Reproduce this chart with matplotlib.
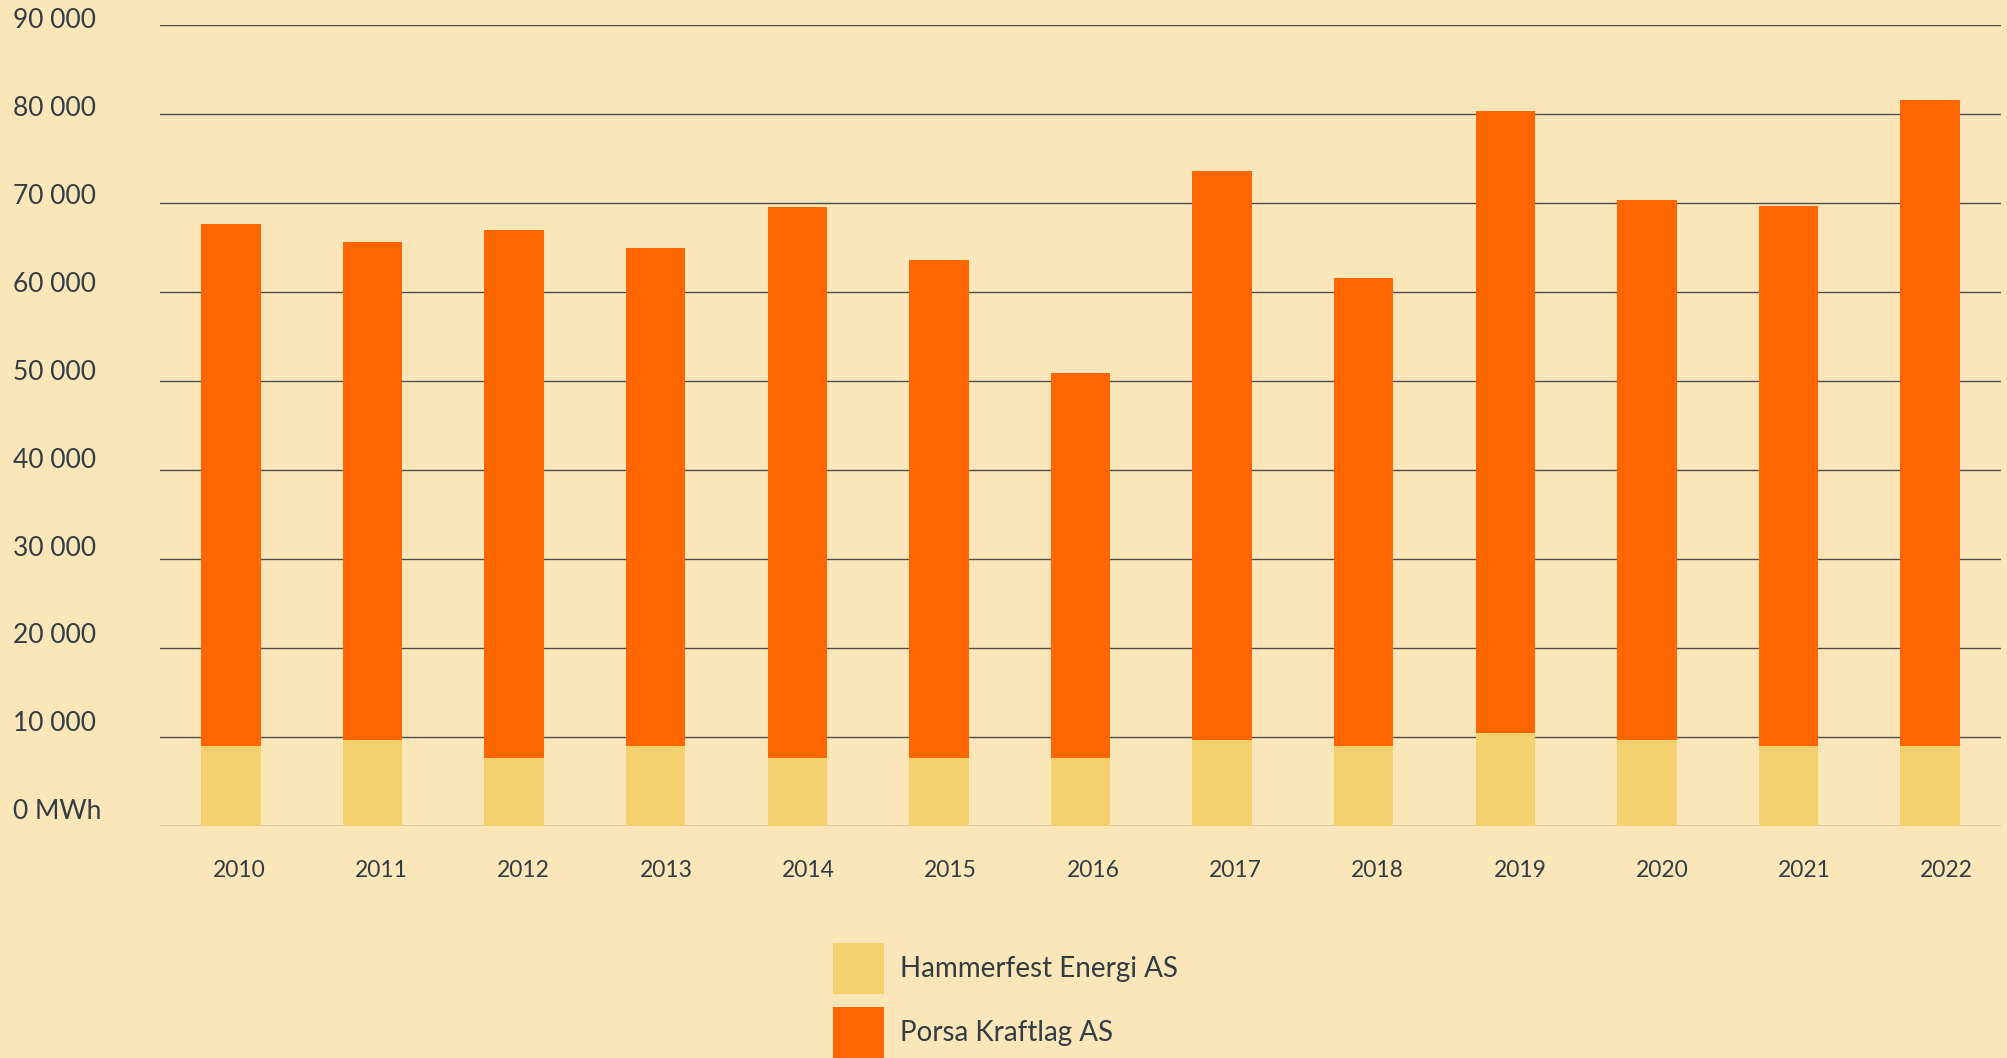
import matplotlib
matplotlib.use("Agg")
import matplotlib.pyplot as plt

# Data (MWh)
years = ["2010", "2011", "2012", "2013", "2014", "2015", "2016",
         "2017", "2018", "2019", "2020", "2021", "2022"]
hammerfest = [9000, 9700, 7600, 9000, 7600, 7600, 7600,
              9700, 9000, 10400, 9700, 9000, 9000]
totals = [67600, 65600, 67000, 65000, 69600, 63600, 50900,
          73600, 61600, 80300, 70300, 69700, 81600]
porsa = [t - h for t, h in zip(totals, hammerfest)]

y_ticks = [0, 10000, 20000, 30000, 40000, 50000, 60000, 70000, 80000, 90000]
y_labels = ["0 MWh", "10 000", "20 000", "30 000", "40 000",
            "50 000", "60 000", "70 000", "80 000", "90 000"]

bg = "#fae6b8"
col_h = "#f4d06f"
col_p = "#ff6600"
txt = "#343c44"

plt.rcParams["font.family"] = ["Lato", "DejaVu Sans"]

fig = plt.figure(figsize=(20.08, 10.58), dpi=100, facecolor=bg)
ax = fig.add_axes([160 / 2008, 1 - 826 / 1058, 1841 / 2008, 801 / 1058])
ax.set_facecolor(bg)

x = list(range(len(years)))
b1 = ax.bar(x, hammerfest, width=0.42, color=col_h, zorder=3, label="Hammerfest Energi AS")
b2 = ax.bar(x, porsa, width=0.42, bottom=hammerfest, color=col_p, zorder=3,
            label="Porsa Kraftlag AS")

ax.set_xlim(-0.5, len(years) - 0.5)
ax.set_ylim(0, 90000)

# horizontal grid lines
for v in y_ticks:
    ax.axhline(v, color="#4d4d4d", lw=1.0, zorder=2)

# y labels sit above their grid line, left aligned at the figure edge
ax.set_yticks([])
for v, lab in zip(y_ticks, y_labels):
    off = (14.5 - 10.5 * v / 90000) * 0.72
    ax.annotate(lab, xy=(-147 / 1841, v), xycoords=ax.get_yaxis_transform(),
                xytext=(0, off), textcoords="offset points",
                ha="left", va="center", fontsize=19, color=txt)

# year labels, drawn a little right of the bar centres like the original
ax.set_xticks([])
for i, lab in enumerate(years):
    dx = (8.3 + i * 0.69) * 0.72
    ax.annotate(lab, xy=(i, 0), xycoords=ax.get_xaxis_transform(),
                xytext=(dx, -32), textcoords="offset points",
                ha="center", va="center", fontsize=16.5, color=txt)

for s in ax.spines.values():
    s.set_visible(False)

fig.legend(handles=[b1, b2], loc="upper left",
           bbox_to_anchor=(833 / 2008, 1 - 943 / 1058),
           frameon=False, fontsize=20, labelcolor=txt,
           handlelength=1.85, handleheight=2.47, handletextpad=0.55,
           labelspacing=0.45, borderpad=0, borderaxespad=0)

fig.savefig("out.png", dpi=100, facecolor=bg)
